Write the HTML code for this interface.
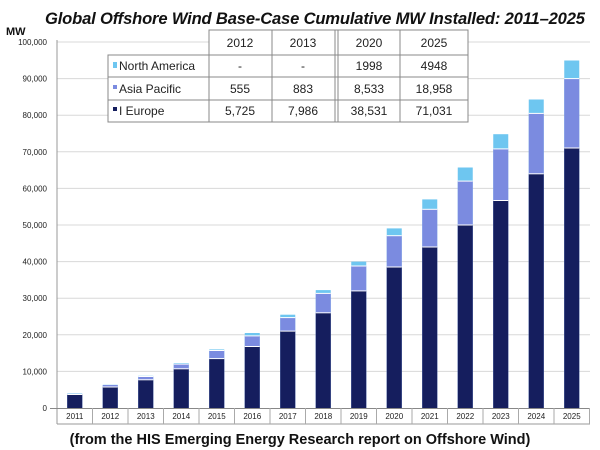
<!DOCTYPE html>
<html><head><meta charset="utf-8"><style>
html,body{margin:0;padding:0;background:#fff;width:600px;height:450px;overflow:hidden}
svg{display:block}
</style></head><body>
<svg width="600" height="450" xmlns="http://www.w3.org/2000/svg" font-family="Liberation Sans, sans-serif">
<text x="45" y="24" font-size="16.6" font-weight="bold" font-style="italic" fill="#111" textLength="540">Global Offshore Wind Base-Case Cumulative MW Installed: 2011–2025</text>
<text x="6" y="35" font-size="11" font-weight="bold" fill="#111">MW</text>
<g stroke="#d8d8d8" stroke-width="1">
<line x1="57" x2="590" y1="371.4" y2="371.4"/><line x1="57" x2="590" y1="334.8" y2="334.8"/>
<line x1="57" x2="590" y1="298.2" y2="298.2"/><line x1="57" x2="590" y1="261.6" y2="261.6"/>
<line x1="57" x2="590" y1="225" y2="225"/><line x1="57" x2="590" y1="188.4" y2="188.4"/>
<line x1="57" x2="590" y1="151.8" y2="151.8"/><line x1="57" x2="590" y1="115.2" y2="115.2"/>
<line x1="57" x2="590" y1="78.6" y2="78.6"/><line x1="57" x2="590" y1="42" y2="42"/>
</g>
<g font-size="8" fill="#222" text-anchor="end">
<text x="47" y="411">0</text><text x="47" y="374.4">10,000</text><text x="47" y="337.8">20,000</text>
<text x="47" y="301.2">30,000</text><text x="47" y="264.6">40,000</text><text x="47" y="228">50,000</text>
<text x="47" y="191.4">60,000</text><text x="47" y="154.8">70,000</text><text x="47" y="118.2">80,000</text>
<text x="47" y="81.6">90,000</text><text x="47" y="45">100,000</text>
</g>
<g>
<rect x="67.25" y="393.5" width="15" height="14.5" fill="#6ec6f0"/><rect x="67.25" y="393.9" width="15" height="14.1" fill="#7b8be0"/><rect x="67.25" y="394.5" width="15" height="13.5" fill="#151e5e"/>
<rect x="102.75" y="384.8" width="15" height="23.2" fill="#6ec6f0"/><rect x="102.75" y="385" width="15" height="23" fill="#7b8be0"/><rect x="102.75" y="387" width="15" height="21" fill="#151e5e"/>
<rect x="138.25" y="375.8" width="15" height="32.2" fill="#6ec6f0"/><rect x="138.25" y="376.5" width="15" height="31.5" fill="#7b8be0"/><rect x="138.25" y="379.8" width="15" height="28.2" fill="#151e5e"/>
<rect x="173.75" y="363" width="15" height="45" fill="#6ec6f0"/><rect x="173.75" y="364.1" width="15" height="43.9" fill="#7b8be0"/><rect x="173.75" y="368.8" width="15" height="39.2" fill="#151e5e"/>
<rect x="209.25" y="349.4" width="15" height="58.6" fill="#6ec6f0"/><rect x="209.25" y="350.5" width="15" height="57.5" fill="#7b8be0"/><rect x="209.25" y="358.6" width="15" height="49.4" fill="#151e5e"/>
<rect x="244.75" y="333" width="15" height="75" fill="#6ec6f0"/><rect x="244.75" y="335.9" width="15" height="72.1" fill="#7b8be0"/><rect x="244.75" y="346.5" width="15" height="61.5" fill="#151e5e"/>
<rect x="280.25" y="314.7" width="15" height="93.3" fill="#6ec6f0"/><rect x="280.25" y="317.6" width="15" height="90.4" fill="#7b8be0"/><rect x="280.25" y="331.1" width="15" height="76.9" fill="#151e5e"/>
<rect x="315.75" y="290.1" width="15" height="117.9" fill="#6ec6f0"/><rect x="315.75" y="293.4" width="15" height="114.6" fill="#7b8be0"/><rect x="315.75" y="312.8" width="15" height="95.2" fill="#151e5e"/>
<rect x="351.25" y="261.6" width="15" height="146.4" fill="#6ec6f0"/><rect x="351.25" y="266" width="15" height="142" fill="#7b8be0"/><rect x="351.25" y="290.9" width="15" height="117.1" fill="#151e5e"/>
<rect x="386.75" y="228.4" width="15" height="179.6" fill="#6ec6f0"/><rect x="386.75" y="235.7" width="15" height="172.3" fill="#7b8be0"/><rect x="386.75" y="267" width="15" height="141" fill="#151e5e"/>
<rect x="422.25" y="199.4" width="15" height="208.6" fill="#6ec6f0"/><rect x="422.25" y="209.3" width="15" height="198.7" fill="#7b8be0"/><rect x="422.25" y="247" width="15" height="161" fill="#151e5e"/>
<rect x="457.75" y="167.5" width="15" height="240.5" fill="#6ec6f0"/><rect x="457.75" y="181.1" width="15" height="226.9" fill="#7b8be0"/><rect x="457.75" y="225" width="15" height="183" fill="#151e5e"/>
<rect x="493.25" y="134.2" width="15" height="273.8" fill="#6ec6f0"/><rect x="493.25" y="148.9" width="15" height="259.1" fill="#7b8be0"/><rect x="493.25" y="200.5" width="15" height="207.5" fill="#151e5e"/>
<rect x="528.75" y="99.5" width="15" height="308.5" fill="#6ec6f0"/><rect x="528.75" y="113.4" width="15" height="294.6" fill="#7b8be0"/><rect x="528.75" y="173.8" width="15" height="234.2" fill="#151e5e"/>
<rect x="564.25" y="60.5" width="15" height="347.5" fill="#6ec6f0"/><rect x="564.25" y="78.6" width="15" height="329.4" fill="#7b8be0"/><rect x="564.25" y="148" width="15" height="260" fill="#151e5e"/>
</g>
<g stroke="#fff" stroke-width="1">
<line x1="67.25" x2="82.25" y1="394.5" y2="394.5"/><line x1="102.75" x2="117.75" y1="387" y2="387"/><line x1="138.25" x2="153.25" y1="379.8" y2="379.8"/><line x1="138.25" x2="153.25" y1="376.5" y2="376.5"/>
<line x1="173.75" x2="188.75" y1="368.8" y2="368.8"/><line x1="173.75" x2="188.75" y1="364.1" y2="364.1"/>
<line x1="209.25" x2="224.25" y1="358.6" y2="358.6"/><line x1="209.25" x2="224.25" y1="350.5" y2="350.5"/>
<line x1="244.75" x2="259.75" y1="346.5" y2="346.5"/><line x1="244.75" x2="259.75" y1="335.9" y2="335.9"/>
<line x1="280.25" x2="295.25" y1="331.1" y2="331.1"/><line x1="280.25" x2="295.25" y1="317.6" y2="317.6"/>
<line x1="315.75" x2="330.75" y1="312.8" y2="312.8"/><line x1="315.75" x2="330.75" y1="293.4" y2="293.4"/>
<line x1="351.25" x2="366.25" y1="290.9" y2="290.9"/><line x1="351.25" x2="366.25" y1="266" y2="266"/>
<line x1="386.75" x2="401.75" y1="267" y2="267"/><line x1="386.75" x2="401.75" y1="235.7" y2="235.7"/>
<line x1="422.25" x2="437.25" y1="247" y2="247"/><line x1="422.25" x2="437.25" y1="209.3" y2="209.3"/>
<line x1="457.75" x2="472.75" y1="225" y2="225"/><line x1="457.75" x2="472.75" y1="181.1" y2="181.1"/>
<line x1="493.25" x2="508.25" y1="200.5" y2="200.5"/><line x1="493.25" x2="508.25" y1="148.9" y2="148.9"/>
<line x1="528.75" x2="543.75" y1="173.8" y2="173.8"/><line x1="528.75" x2="543.75" y1="113.4" y2="113.4"/>
<line x1="564.25" x2="579.25" y1="148" y2="148"/><line x1="564.25" x2="579.25" y1="78.6" y2="78.6"/>
</g>
<line x1="57" y1="40" x2="57" y2="424" stroke="#999"/>
<line x1="50" y1="408.5" x2="590" y2="408.5" stroke="#888"/>
<line x1="57" y1="424" x2="590" y2="424" stroke="#999"/>
<g stroke="#aaa">
<line x1="92.5" x2="92.5" y1="408" y2="424"/><line x1="128" x2="128" y1="408" y2="424"/><line x1="163.5" x2="163.5" y1="408" y2="424"/>
<line x1="199" x2="199" y1="408" y2="424"/><line x1="234.5" x2="234.5" y1="408" y2="424"/><line x1="270" x2="270" y1="408" y2="424"/>
<line x1="305.5" x2="305.5" y1="408" y2="424"/><line x1="341" x2="341" y1="408" y2="424"/><line x1="376.5" x2="376.5" y1="408" y2="424"/>
<line x1="412" x2="412" y1="408" y2="424"/><line x1="447.5" x2="447.5" y1="408" y2="424"/><line x1="483" x2="483" y1="408" y2="424"/>
<line x1="518.5" x2="518.5" y1="408" y2="424"/><line x1="554" x2="554" y1="408" y2="424"/><line x1="589.5" x2="589.5" y1="408" y2="424"/>
</g>
<g font-size="8" fill="#222" text-anchor="middle">
<text x="74.75" y="419">2011</text><text x="110.25" y="419">2012</text><text x="145.75" y="419">2013</text><text x="181.25" y="419">2014</text>
<text x="216.75" y="419">2015</text><text x="252.25" y="419">2016</text><text x="287.75" y="419">2017</text><text x="323.25" y="419">2018</text>
<text x="358.75" y="419">2019</text><text x="394.25" y="419">2020</text><text x="429.75" y="419">2021</text><text x="465.25" y="419">2022</text>
<text x="500.75" y="419">2023</text><text x="536.25" y="419">2024</text><text x="571.75" y="419">2025</text>
</g>
<g font-family="Liberation Sans Narrow, Liberation Sans, sans-serif" font-size="12" fill="#222">
<rect x="209" y="30" width="259" height="92" fill="#fff" stroke="#888"/>
<rect x="108" y="55" width="360" height="67" fill="#fff" stroke="#888"/>
<line x1="108" y1="77" x2="468" y2="77" stroke="#888"/>
<line x1="108" y1="100" x2="468" y2="100" stroke="#888"/>
<line x1="209" y1="55" x2="209" y2="122" stroke="#888"/>
<line x1="272" y1="30" x2="272" y2="122" stroke="#888"/>
<line x1="335" y1="30" x2="335" y2="122" stroke="#888"/>
<line x1="338" y1="30" x2="338" y2="122" stroke="#888"/>
<line x1="400" y1="30" x2="400" y2="122" stroke="#888"/>
<g text-anchor="middle">
<text x="240" y="47">2012</text><text x="303" y="47">2013</text><text x="369" y="47">2020</text><text x="434" y="47">2025</text>
<text x="240" y="70">-</text><text x="303" y="70">-</text><text x="369" y="70">1998</text><text x="434" y="70">4948</text>
<text x="240" y="93">555</text><text x="303" y="93">883</text><text x="369" y="93">8,533</text><text x="434" y="93">18,958</text>
<text x="240" y="115">5,725</text><text x="303" y="115">7,986</text><text x="369" y="115">38,531</text><text x="434" y="115">71,031</text>
</g>
<rect x="113" y="62" width="4" height="6" fill="#6ec6f0"/><text x="119" y="70">North America</text>
<rect x="113" y="85" width="4" height="4" fill="#7b8be0"/><text x="119" y="93">Asia Pacific</text>
<rect x="113" y="107" width="4" height="4" fill="#151e5e"/><text x="119" y="115">I Europe</text>
</g>
<text x="300" y="444" font-size="14.5" font-weight="bold" fill="#111" text-anchor="middle">(from the HIS Emerging Energy Research report on Offshore Wind)</text>
</svg>
</body></html>
